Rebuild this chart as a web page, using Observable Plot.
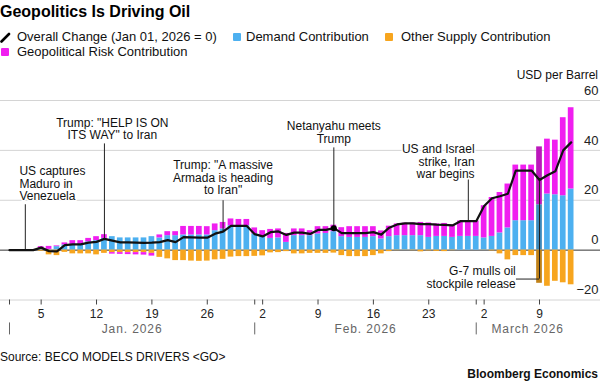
<!DOCTYPE html>
<html><head><meta charset="utf-8">
<script src="https://cdn.jsdelivr.net/npm/d3@7"></script>
<script src="https://cdn.jsdelivr.net/npm/@observablehq/plot@0.6"></script>
<style>
body{margin:0;background:#fff;font-family:"Liberation Sans",Arial,sans-serif;color:#111;}
#wrap{position:relative;width:600px;height:382px;overflow:hidden;background:#fff;}
.abs{position:absolute;white-space:nowrap;line-height:16px;}
#title{left:0;top:4px;font-size:16px;font-weight:bold;color:#000;}
.leg{font-size:13px;color:#111;}
.sw{position:absolute;width:8px;height:8px;border-radius:1px;}
#chart{position:absolute;left:0;top:80px;}
#unit{right:2px;top:67px;font-size:12px;}
#src{left:0;top:349px;font-size:12px;}
#brand{right:2px;top:366px;font-size:12px;font-weight:bold;color:#111;}
</style></head>
<body>
<div id="wrap">
  <div class="abs" id="title">Geopolitics Is Driving Oil</div>
  <svg class="abs" style="left:0;top:32px" width="11" height="11"><line x1="1.5" y1="9.5" x2="9" y2="2" stroke="#000" stroke-width="2.6" stroke-linecap="round"/></svg>
  <div class="abs leg" style="left:17px;top:29px">Overall Change (Jan 01, 2026 = 0)</div>
  <div class="sw" id="swD" style="left:233px;top:33px"></div>
  <div class="abs leg" style="left:246px;top:29px">Demand Contribution</div>
  <div class="sw" id="swS" style="left:385px;top:33px"></div>
  <div class="abs leg" style="left:401px;top:29px">Other Supply Contribution</div>
  <div class="sw" id="swG" style="left:1px;top:48px"></div>
  <div class="abs leg" style="left:17px;top:44px">Geopolitical Risk Contribution</div>
  <div class="abs" id="unit">USD per Barrel</div>
  <div id="chart"></div>
  <div class="abs" id="src">Source: BECO MODELS DRIVERS &lt;GO&gt;</div>
  <div class="abs" id="brand">Bloomberg Economics</div>
</div>
<script>
// ---- data ----
const dates = [
"2026-01-01","2026-01-02","2026-01-03","2026-01-04","2026-01-05","2026-01-06","2026-01-07","2026-01-08","2026-01-09","2026-01-10",
"2026-01-11","2026-01-12","2026-01-13","2026-01-14","2026-01-15","2026-01-16","2026-01-17","2026-01-18","2026-01-19","2026-01-20",
"2026-01-21","2026-01-22","2026-01-23","2026-01-24","2026-01-25","2026-01-26","2026-01-27","2026-01-28","2026-01-29","2026-01-30",
"2026-01-31","2026-02-01","2026-02-02","2026-02-03","2026-02-04","2026-02-05","2026-02-06","2026-02-07","2026-02-08","2026-02-09",
"2026-02-10","2026-02-11","2026-02-12","2026-02-13","2026-02-14","2026-02-15","2026-02-16","2026-02-17","2026-02-18","2026-02-19",
"2026-02-20","2026-02-21","2026-02-22","2026-02-23","2026-02-24","2026-02-25","2026-02-26","2026-02-27","2026-02-28","2026-03-01",
"2026-03-02","2026-03-03","2026-03-04","2026-03-05","2026-03-06","2026-03-07","2026-03-08","2026-03-09","2026-03-10","2026-03-11",
"2026-03-12","2026-03-13"];
const demand = [
0,0,0,0,0.5,0.3,1.4,2.1,2.3,2.3,
3.3,3.8,4.7,5.4,4.9,4.9,4.9,4.9,5.4,4.9,
5.8,5.8,6.1,6.1,6.1,6.1,7.8,8.5,9.8,9.8,
9.8,6.5,5.4,4.7,4.9,3.1,5.8,5.8,5.8,6.5,
6.7,7.4,5.4,5.1,5.1,5.1,5.4,4.5,5.4,5.8,
5.8,5.8,5.8,5.1,5.5,5.5,5.1,5.5,5.5,5.5,
4.9,5.5,6.9,8.9,11.8,11.8,11.8,18.2,22.5,22.2,
21.8,24.5];
const supply = [
0,0,0,0,-0.4,-1.9,-2.2,-0.9,-1.5,-1.5,
-1.5,-1.9,-1.3,-1.0,-1.0,-1.0,-1.0,-1.0,-1.3,-2.9,
-3.5,-4.2,-4.2,-4.4,-4.5,-4.4,-3.9,-3.7,-2.8,-2.6,
-2.6,-2.5,-2.3,-1.1,-1.0,-0.6,-1.5,-1.5,-1.3,-1.3,
-1.3,-1.2,-2.2,-2.6,-2.6,-2.6,-2.2,-1.5,-0.6,-0.2,
-0.1,-0.2,-0.7,-0.3,-0.5,-0.6,-0.2,0,0,0,
-0.1,-0.3,-1.5,-3.9,-2.2,-2.2,-2.2,-13.3,-14.5,-12.5,
-13.1,-13.9];
const geo = [
0,0,0,0,0.9,1.2,0.3,0.8,1.5,1.5,
1.4,1.6,1.5,-0.6,-0.7,-0.8,-0.9,-1.0,-1.1,1.2,
1.6,1.6,3.4,3.4,3.4,3.3,2.7,2.6,2.7,2.5,
2.5,2.4,2.4,3.6,3.6,3.6,2.7,2.7,2.0,2.9,
2.7,2.6,3.6,4.3,4.3,4.3,4.0,3.2,4.2,4.7,
5.0,5.1,5.3,5.8,5.0,5.2,5.0,6.2,6.2,6.2,
12.9,15.6,16.2,17.6,22.3,22.3,22.3,23.2,22.0,21.9,
31.3,32.6];
const overall = [
0,0,0,0,1.0,-0.4,-0.5,2.0,2.3,2.3,
3.0,3.3,4.5,3.8,3.1,3.1,3.0,2.9,3.0,3.2,
4.0,3.2,5.2,5.1,5.0,5.0,6.6,7.4,9.7,9.7,
9.7,6.4,5.5,7.2,7.5,6.1,7.0,7.0,6.5,8.1,
8.1,8.8,6.8,6.8,6.8,6.8,7.2,6.2,9.0,10.3,
10.7,10.7,10.4,10.4,10.2,10.1,9.9,11.6,11.6,11.6,
17.7,20.8,21.6,22.6,31.9,31.9,31.9,28.1,30.0,31.6,
40.0,43.2];
const seriesNames = ["Demand Contribution","Other Supply Contribution","Geopolitical Risk Contribution"];
const seriesColors = ["#4db0f0","#f7a51e","#f01ef0"];
const highlightDate = "2026-03-09";
const weekTicks = ["2026-01-05","2026-01-12","2026-01-19","2026-01-26","2026-02-02","2026-02-09","2026-02-16","2026-02-23","2026-03-02","2026-03-09"];
const monthStarts = ["2026-01-01","2026-02-01","2026-03-01"];
const monthLabels = ["Jan. 2026","Feb. 2026","March 2026"];
const yTicks = [60,40,20,0,-20];
const gridTicks = [60,40,20,-20];
const xDomain = ["2025-12-30T20:41Z","2026-03-16T17:02Z"];
// annotations
const annText = ["US captures\nMaduro in\nVenezuela","Trump: \"HELP IS ON\nITS WAY\" to Iran","Trump: \"A massive\nArmada is heading\nto Iran\"","Netanyahu meets\nTrump","US and Israel\nstrike, Iran\nwar begins","G-7 mulls oil\nstockpile release"];
const annTextX = ["2026-01-02T06:00Z","2026-01-14","2026-01-28","2026-02-11","2026-02-28T19:00Z","2026-03-06"];
const annTextY = [26.6,48.6,29.1,47.3,35.4,-10.9];
const annAnchor = ["start","middle","middle","middle","end","end"];
const annLeaderX = ["2026-01-03","2026-01-13","2026-01-28","2026-02-11","2026-02-28","2026-03-09"];
const annLeaderFrom = [0,4.5,7.4,8.8,11.6,28.1];
const annLeaderTo = [18.2,42.6,19.8,41,28.2,-11.6];
const g7ElbowX = ["2026-03-06T02:00Z","2026-03-09"];
const g7ElbowY = -11.6;
const dotDate = "2026-02-11";

// ---- build ----
document.getElementById("swD").style.background = seriesColors[0];
document.getElementById("swS").style.background = seriesColors[1];
document.getElementById("swG").style.background = seriesColors[2];

const DAY = 864e5;
const P = s => new Date(s.length > 10 ? s : s + "T00:00Z");
const comps = [demand, supply, geo];
const rows = [];
dates.forEach((ds, i) => {
  comps.forEach((arr, k) => rows.push({
    date: P(ds), series: seriesNames[k], value: arr[i],
    color: ds === highlightDate ? d3.color(seriesColors[k]).darker(0.7).formatHex() : seriesColors[k]
  }));
});
const lineData = dates.map((ds, i) => ({date: P(ds), value: overall[i]}));
const anns = annText.map((t, i) => ({text: t, x: P(annTextX[i]), y: annTextY[i], anchor: annAnchor[i],
  lx: P(annLeaderX[i]), ly1: annLeaderFrom[i], ly2: annLeaderTo[i]}));
const lastDate = P(dates[dates.length - 1]);
const months = monthStarts.map((m, i) => {
  const s = P(m);
  const e = i + 1 < monthStarts.length ? P(monthStarts[i + 1]) : new Date(+lastDate + DAY);
  return {label: monthLabels[i], date: new Date((+s + +e) / 2)};
});
const dotRow = lineData.find(d => +d.date === +P(dotDate));

const textMark = anchor => Plot.text(anns.filter(a => a.anchor === anchor), {
  x: "x", y: "y", text: "text", textAnchor: anchor, lineAnchor: "middle",
  fontSize: 12, lineHeight: 1.05, fill: "#111", stroke: "white", strokeWidth: 3, paintOrder: "stroke"
});

const chart = Plot.plot({
  width: 600, height: 260,
  marginTop: 20, marginBottom: 40.5, marginLeft: 0, marginRight: 0,
  x: {type: "utc", domain: xDomain.map(P)},
  y: {domain: [-20, 60]},
  color: {type: "identity"},
  style: {fontFamily: "'Liberation Sans', Arial, sans-serif", fontSize: "12px", color: "#222", background: "transparent", overflow: "visible"},
  marks: [
    Plot.gridY({ticks: gridTicks, stroke: "#d4d4d4", strokeOpacity: 1}),
    Plot.axisY({anchor: "right", ticks: yTicks, tickSize: 0, tickPadding: 0, textAnchor: "end", dx: -2, dy: -10, fontSize: 13, label: null, fill: "#222"}),
    Plot.axisX({ticks: weekTicks.map(P), tickFormat: d3.utcFormat("%-d"), tickSize: 5, tickPadding: 4, fontSize: 12, label: null, stroke: "#444"}),
    Plot.axisX({ticks: monthStarts.map(P), tickFormat: () => "", tickSize: 5, label: null, stroke: "#444"}),
    Plot.ruleX(monthStarts.map(P), {x: d => d, y1: -29.2, y2: -34, stroke: "#666"}),
    Plot.text(months, {x: "date", y: -31.8, text: "label", fontSize: 12, fill: "#666", lineAnchor: "middle"}),
    Plot.ruleY([0], {stroke: "#333", strokeWidth: 1}),
    Plot.rectY(rows, {
      x1: d => new Date(+d.date - 0.36 * DAY), x2: d => new Date(+d.date + 0.36 * DAY),
      y: "value", fill: "color"
    }),
    Plot.ruleX(anns, {x: "lx", y1: "ly1", y2: "ly2", stroke: "#222", strokeWidth: 1}),
    Plot.ruleY([g7ElbowY], {x1: P(g7ElbowX[0]), x2: P(g7ElbowX[1]), stroke: "#222", strokeWidth: 1}),
    Plot.line(lineData, {x: "date", y: "value", stroke: "#111", strokeWidth: 2.2, strokeLinejoin: "round"}),
    Plot.dot([dotRow], {x: "date", y: "value", r: 3, fill: "#000"}),
    textMark("start"), textMark("middle"), textMark("end")
  ]
});
document.getElementById("chart").appendChild(chart);
d3.select(chart).selectAll("text").filter(function () { return monthLabels.includes(this.textContent); })
  .attr("letter-spacing", "0.9px");
</script>
</body></html>
